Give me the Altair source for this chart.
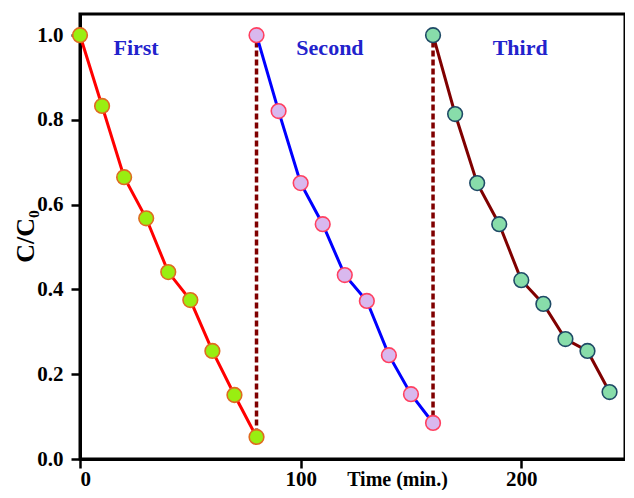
import altair as alt
import pandas as pd

# ---- data ----
series_names = ["First", "Second", "Third"]
time_first = [0, 10, 20, 30, 40, 50, 60, 70, 80]
time_second = [80, 90, 100, 110, 120, 130, 140, 150, 160]
time_third = [160, 170, 180, 190, 200, 210, 220, 230, 240]
c_first = [1.0, 0.833, 0.665, 0.568, 0.441, 0.375, 0.255, 0.151, 0.052]
c_second = [1.0, 0.821, 0.651, 0.554, 0.434, 0.373, 0.245, 0.153, 0.085]
c_third = [1.0, 0.814, 0.651, 0.554, 0.422, 0.366, 0.283, 0.255, 0.158]

dash_x = [80, 160]
dash_top = [0.985, 0.985]
dash_bottom = [0.052, 0.085]

label_text = ["First", "Second", "Third"]
label_x = [25.4, 113.3, 199.5]
label_y = [0.969, 0.969, 0.969]

line_colors = ["#ff0000", "#0000ff", "#800000"]
fill_colors = ["#99ee11", "#d9b8ee", "#88ddaa"]
stroke_colors = ["#e06a20", "#ff4060", "#1e4a66"]

rows = []
for name, ts, cs in zip(series_names, [time_first, time_second, time_third],
                        [c_first, c_second, c_third]):
    for t, c in zip(ts, cs):
        rows.append({"series": name, "time": t, "c": c})
df = pd.DataFrame(rows)
dash_df = pd.DataFrame({"x": dash_x, "top": dash_top, "bottom": dash_bottom})
label_df = pd.DataFrame({"text": label_text, "x": label_x, "y": label_y})

FONT = "Liberation Serif"

x_scale = alt.Scale(domain=[0, 247], nice=False, zero=False)
y_scale = alt.Scale(domain=[0, 1.05], nice=False)

x_enc = alt.X("time:Q", scale=x_scale,
              axis=alt.Axis(values=[0, 100, 200], title="Time (min.)", format="d",
                            labelPadding=0, titleX=317, titleY=26,
                            titleAlign="center", titleBaseline="alphabetic",
                            titleFontSize=20))
y_enc = alt.Y("c:Q", scale=y_scale,
              axis=alt.Axis(values=[0, 0.2, 0.4, 0.6, 0.8, 1.0], format=".1f",
                            title="C/C₀", labelPadding=8, titleX=-55, titleY=222,
                            titleAngle=-90, titleAlign="center",
                            titleBaseline="middle", titleFontSize=26))

dashes = alt.Chart(dash_df).mark_rule(
    color="#800000", strokeWidth=3.5, strokeDash=[6, 3]
).encode(
    x=alt.X("x:Q", scale=x_scale),
    y=alt.Y("top:Q", scale=y_scale),
    y2="bottom:Q",
)

lines = alt.Chart(df).mark_line(strokeWidth=3).encode(
    x=x_enc,
    y=y_enc,
    color=alt.Color("series:N", scale=alt.Scale(domain=series_names, range=line_colors),
                    legend=None),
    detail="series:N",
)

points = alt.Chart(df).mark_point(filled=False, size=215, strokeWidth=1.6, opacity=1).encode(
    x=x_enc,
    y=y_enc,
    fill=alt.Fill("series:N", scale=alt.Scale(domain=series_names, range=fill_colors),
                  legend=None),
    stroke=alt.Stroke("series:N", scale=alt.Scale(domain=series_names, range=stroke_colors),
                      legend=None),
    shape=alt.value("circle"),
)

labels = alt.Chart(label_df).mark_text(
    font=FONT, fontWeight="bold", fontSize=22, color="#2222cc", align="center",
    baseline="middle"
).encode(
    x=alt.X("x:Q", scale=x_scale),
    y=alt.Y("y:Q", scale=y_scale),
    text="text:N",
)

chart = alt.layer(dashes, lines, points, labels).properties(
    width=545, height=445,
    autosize=alt.AutoSizeParams(type="none"),
    padding={"left": 72, "top": 6, "right": 0, "bottom": 31},
).configure_view(
    stroke="black", strokeWidth=3
).configure_axis(
    domainColor="black", domainWidth=3, tickColor="black", tickWidth=2.5, tickSize=9,
    labelFont=FONT, labelFontWeight="bold", labelFontSize=21, labelColor="black",
    titleFont=FONT, titleFontWeight="bold", titleFontSize=21, titleColor="black",
    grid=False,
)

chart.save("out.html", embed_options={"renderer": "svg", "actions": False})
